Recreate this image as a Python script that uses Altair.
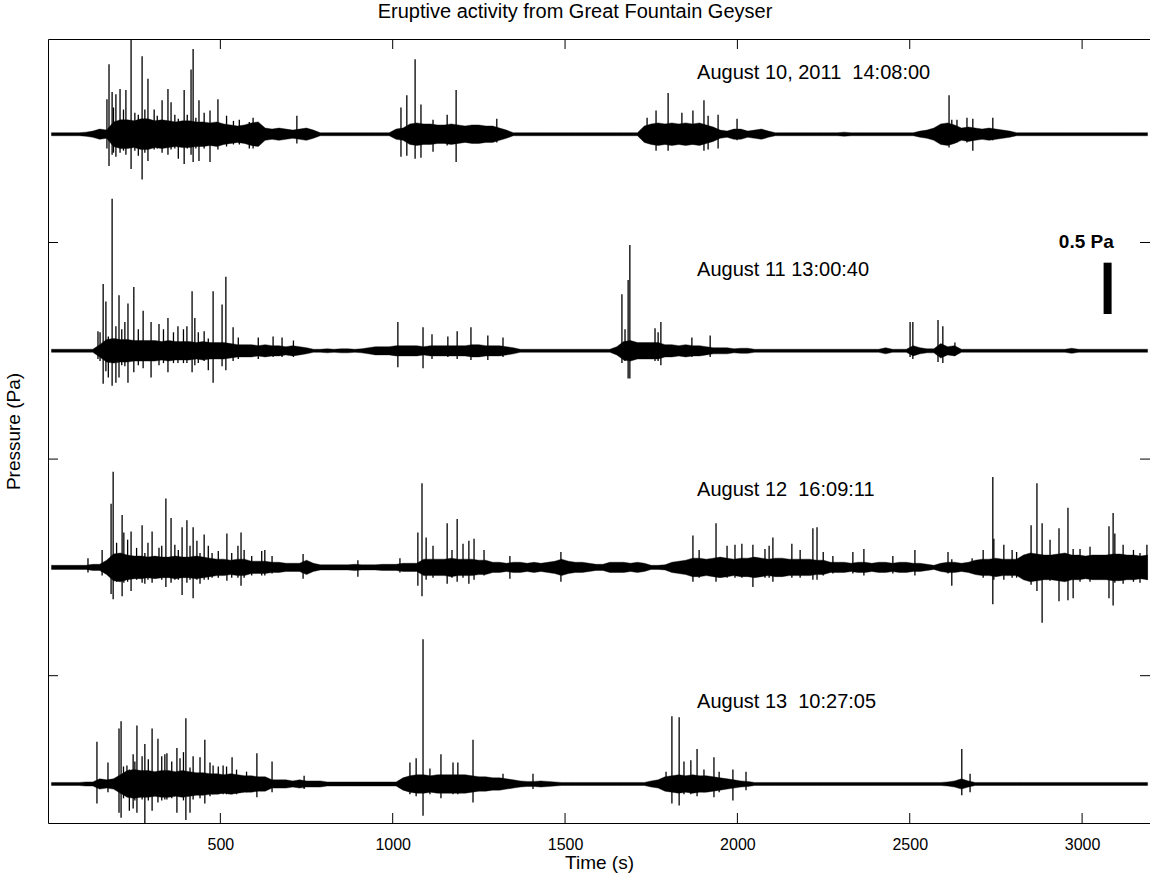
import altair as alt
import pandas as pd

# ---------------- data ----------------
BIN_S = 20          # envelope bin width, seconds
T_MAX = 3197        # right edge of the time axis, s

# half-width of the dense part of each trace, per 20 s bin, in 0.01 Pa
env_aug10 = [
    1.5, 1.5, 1.5, 1.5, 1.5, 2, 3, 5, 4, 12,
    14, 14, 13, 15, 15, 13, 14, 13, 12, 13,
    13, 12, 12, 11, 12, 10, 9, 8, 9, 11,
    12, 6, 5, 6, 5, 4, 5, 6, 4, 1.5,
    1.5, 1.5, 1.5, 1.5, 1.5, 1.5, 1.5, 1.5, 1.5, 1.5,
    5, 6, 10, 11, 10, 10, 9, 9, 10, 9,
    8, 9, 9, 8, 8, 6, 4, 1.5, 1.5, 1.5,
    1.5, 1.5, 1.5, 1.5, 1.5, 1.5, 1.5, 1.5, 1.5, 1.5,
    1.5, 1.5, 1.5, 1.5, 1.5, 1.5, 8, 10, 11, 10,
    11, 10, 11, 10, 11, 9, 7, 4, 3, 5,
    5, 3, 4, 5, 3, 1.5, 1.5, 1.5, 1.5, 1.5,
    1.5, 1.5, 1.5, 1.5, 1.5, 2, 1.5, 1.5, 1.5, 1.5,
    1.5, 1.5, 1.5, 1.5, 1.5, 1.5, 3, 4, 6, 10,
    11, 9, 6, 7, 6, 5, 6, 5, 4, 3,
    1.5, 1.5, 1.5, 1.5, 1.5, 1.5, 1.5, 1.5, 1.5, 1.5,
    1.5, 1.5, 1.5, 1.5, 1.5, 1.5, 1.5, 1.5, 1.5, 1.5,
]
env_aug11 = [
    1.5, 1.5, 1.5, 1.5, 1.5, 1.5, 1.5, 6, 11, 12,
    11, 11, 10, 10, 10, 10, 9, 10, 9, 9,
    9, 8, 9, 8, 8, 8, 7, 6, 6, 6,
    5, 6, 5, 5, 4, 5, 4, 3, 1.5, 1.5,
    2, 1.5, 2, 2, 1.5, 2, 3, 4, 4, 4,
    5, 5, 5, 5, 4, 5, 5, 5, 5, 5,
    5, 6, 6, 5, 5, 5, 4, 3, 1.5, 1.5,
    1.5, 1.5, 1.5, 1.5, 1.5, 1.5, 1.5, 1.5, 1.5, 1.5,
    1.5, 1.5, 4, 9, 10, 8, 8, 8, 8, 6,
    6, 5, 6, 5, 5, 4, 3, 3, 3, 2,
    2.5, 2.5, 1.5, 1.5, 1.5, 1.5, 1.5, 1.5, 1.5, 1.5,
    1.5, 1.5, 1.5, 1.5, 1.5, 1.5, 1.5, 1.5, 1.5, 1.5,
    1.5, 3, 1.5, 1.5, 1.5, 5, 3, 2, 2, 7,
    4, 5, 1.5, 1.5, 1.5, 1.5, 1.5, 1.5, 1.5, 1.5,
    1.5, 1.5, 1.5, 1.5, 1.5, 1.5, 1.5, 1.5, 2.5, 1.5,
    1.5, 1.5, 1.5, 1.5, 1.5, 1.5, 1.5, 1.5, 1.5, 1.5,
]
env_aug12 = [
    2, 2, 2, 2, 2, 2, 3, 3, 7, 13,
    14, 12, 11, 11, 10, 11, 10, 10, 11, 10,
    10, 11, 10, 9, 8, 8, 7, 8, 8, 6,
    6, 6, 5, 5, 4, 4, 4, 7, 4, 2.5,
    2.5, 2.5, 2.5, 2.5, 3, 2.5, 2.5, 2.5, 3, 3,
    3, 4, 4, 4, 8, 8, 8, 8, 9, 8,
    8, 8, 7, 7, 5, 5, 4, 5, 5, 4,
    5, 4, 5, 6, 8, 6, 5, 5, 4, 3,
    3, 5, 5, 5, 4, 5, 4, 2, 2, 2.5,
    5, 6, 7, 9, 9, 8, 9, 10, 9, 8,
    9, 9, 10, 9, 8, 9, 9, 8, 8, 8,
    8, 7, 7, 5, 5, 5, 4, 5, 5, 4,
    5, 5, 4, 5, 5, 4, 4, 3, 2, 4,
    5, 5, 4, 5, 7, 8, 8, 9, 8, 8,
    8, 12, 14, 13, 12, 12, 13, 14, 12, 12,
    11, 12, 12, 12, 13, 13, 12, 12, 11, 12,
]
env_aug13 = [
    1.5, 1.5, 1.5, 1.5, 1.5, 2, 2, 5, 4, 5,
    9, 13, 14, 13, 13, 12, 13, 13, 12, 13,
    12, 11, 11, 10, 10, 9, 10, 9, 8, 8,
    7, 7, 4, 4, 4, 3, 4, 3, 3, 3,
    2, 2, 2, 2, 2, 2, 2, 2, 2, 2,
    2, 6, 8, 9, 9, 8, 9, 9, 9, 9,
    9, 8, 7, 7, 6, 6, 5, 4, 3, 2.5,
    2.5, 3, 2.5, 2, 1.5, 1.5, 1.5, 1.5, 1.5, 1.5,
    1.5, 1.5, 1.5, 1.5, 1.5, 1.5, 1.5, 3, 4, 7,
    8, 9, 8, 9, 8, 8, 7, 6, 5, 4,
    3, 2.5, 1.5, 1.5, 1.5, 1.5, 1.5, 1.5, 1.5, 1.5,
    1.5, 1.5, 1.5, 1.5, 1.5, 1.5, 1.5, 1.5, 1.5, 1.5,
    1.5, 1.5, 1.5, 1.5, 1.5, 1.5, 1.5, 1.5, 1.5, 1.5,
    2, 3, 5, 3, 1.5, 1.5, 1.5, 1.5, 1.5, 1.5,
    1.5, 1.5, 1.5, 1.5, 1.5, 1.5, 1.5, 1.5, 1.5, 1.5,
    1.5, 1.5, 1.5, 1.5, 1.5, 1.5, 1.5, 1.5, 1.5, 1.5,
]

# individual spikes: (time s, peak up, peak down) in 0.01 Pa
spikes_aug10 = [
    (171, 34, 14), (177, 68, 31), (186, 41, 20), (190, 26, 18), (197, 39, 22),
    (209, 44, 18), (219, 24, 16), (226, 43, 20), (241, 94, 34), (252, 21, 16),
    (262, 19, 21), (273, 76, 44), (281, 24, 18), (290, 54, 26), (308, 24, 15),
    (317, 18, 14), (331, 33, 18), (348, 44, 20), (357, 31, 15), (368, 19, 14),
    (378, 15, 24), (395, 43, 29), (404, 19, 14), (415, 63, 20), (421, 83, 27),
    (429, 16, 14), (438, 33, 26), (453, 21, 14), (470, 23, 27), (493, 34, 15),
    (518, 18, 12), (538, 13, 10), (555, 14, 10), (584, 12, 14), (595, 16, 14),
    (722, 18, 9), (1024, 26, 22), (1041, 38, 21), (1065, 73, 24), (1082, 29, 23),
    (1117, 14, 17), (1158, 19, 11), (1184, 43, 27), (1302, 15, 8), (1738, 16, 8),
    (1764, 23, 16), (1799, 40, 16), (1839, 21, 10), (1871, 23, 10), (1903, 33, 16),
    (1915, 18, 15), (1944, 19, 14), (1999, 15, 6), (2614, 38, 13), (2622, 14, 8),
    (2637, 14, 8), (2666, 16, 8), (2683, 15, 16), (2741, 16, 6),
]
spikes_aug11 = [
    (145, 19, 8), (151, 18, 10), (160, 65, 32), (168, 48, 20), (175, 14, 26),
    (186, 148, 34), (197, 24, 31), (206, 54, 26), (214, 21, 14), (223, 28, 15),
    (232, 46, 31), (249, 62, 21), (262, 21, 14), (276, 39, 17), (299, 28, 26),
    (322, 26, 14), (335, 21, 12), (348, 32, 21), (364, 18, 12), (377, 24, 12),
    (393, 21, 12), (403, 24, 12), (418, 58, 21), (426, 32, 14), (436, 18, 12),
    (453, 19, 10), (465, 12, 19), (479, 58, 31), (505, 45, 15), (516, 72, 19),
    (537, 23, 10), (552, 13, 8), (610, 13, 8), (653, 14, 6), (679, 13, 6),
    (712, 10, 6), (1015, 28, 16), (1088, 23, 17), (1114, 16, 8), (1160, 14, 6),
    (1187, 19, 8), (1227, 23, 9), (1276, 15, 9), (1320, 13, 6), (1665, 55, 12),
    (1674, 21, 10), (1683, 69, 27), (1688, 103, 27), (1761, 22, 10), (1770, 18, 10),
    (1778, 28, 14), (1868, 13, 6), (1921, 15, 6), (2501, 28, 6), (2509, 28, 8),
    (2582, 30, 11), (2596, 24, 12), (2631, 8, 5),
]
spikes_aug12 = [
    (116, 9, 5), (157, 17, 8), (183, 62, 26), (189, 93, 31), (199, 24, 14),
    (215, 51, 28), (220, 34, 15), (231, 27, 14), (241, 35, 23), (257, 19, 12),
    (273, 41, 15), (281, 14, 16), (290, 24, 12), (302, 35, 15), (322, 19, 10),
    (330, 21, 12), (342, 67, 19), (357, 48, 15), (368, 22, 12), (378, 17, 12),
    (389, 39, 27), (403, 46, 15), (412, 21, 12), (421, 39, 30), (432, 26, 12),
    (441, 14, 16), (453, 32, 12), (465, 21, 12), (476, 14, 10), (494, 16, 10),
    (519, 33, 13), (533, 14, 10), (551, 21, 10), (560, 34, 18), (569, 17, 10),
    (591, 11, 8), (620, 16, 8), (629, 17, 8), (650, 11, 6), (740, 13, 11),
    (899, 7, 9), (1021, 9, 5), (1073, 34, 18), (1085, 82, 28), (1097, 29, 12),
    (1117, 21, 10), (1158, 43, 16), (1172, 17, 10), (1187, 47, 14), (1204, 23, 10),
    (1221, 26, 16), (1236, 28, 12), (1265, 17, 8), (1340, 11, 11), (1488, 15, 14),
    (1871, 31, 14), (1889, 17, 10), (1938, 43, 14), (1970, 21, 10), (1993, 22, 10),
    (2013, 23, 10), (2045, 22, 19), (2080, 18, 10), (2092, 21, 10), (2103, 29, 14),
    (2158, 23, 10), (2182, 17, 10), (2219, 38, 12), (2231, 39, 12), (2249, 15, 8),
    (2277, 11, 6), (2335, 15, 6), (2367, 18, 8), (2451, 11, 6), (2515, 17, 8),
    (2611, 15, 6), (2622, 8, 18), (2681, 9, 5), (2713, 17, 10), (2741, 88, 36),
    (2744, 28, 12), (2773, 22, 12), (2797, 17, 10), (2810, 15, 10), (2852, 41, 17),
    (2869, 82, 23), (2884, 43, 54), (2907, 27, 13), (2933, 38, 33), (2959, 58, 32),
    (2974, 18, 30), (2994, 18, 14), (3023, 20, 14), (3078, 40, 30), (3090, 53, 37),
    (3095, 33, 15), (3119, 22, 16), (3149, 17, 14), (3168, 14, 15), (3188, 22, 12),
]
spikes_aug13 = [
    (142, 41, 19), (174, 21, 8), (206, 54, 28), (212, 61, 33), (219, 17, 14),
    (229, 18, 12), (236, 14, 26), (247, 29, 24), (252, 22, 16), (258, 57, 28),
    (273, 27, 15), (281, 39, 39), (291, 24, 16), (302, 54, 26), (319, 44, 18),
    (330, 27, 16), (339, 29, 15), (345, 30, 15), (359, 22, 14), (374, 35, 28),
    (383, 25, 12), (393, 31, 16), (400, 64, 35), (412, 16, 28), (421, 27, 15),
    (441, 26, 14), (455, 43, 19), (470, 21, 12), (479, 18, 10), (494, 17, 10),
    (508, 18, 10), (518, 17, 10), (534, 26, 10), (547, 14, 10), (576, 12, 8),
    (606, 30, 13), (650, 22, 8), (743, 8, 5), (1050, 21, 10), (1068, 25, 12),
    (1088, 141, 31), (1108, 15, 10), (1140, 29, 14), (1175, 21, 10), (1189, 21, 10),
    (1233, 43, 18), (1320, 10, 5), (1407, 10, 5), (1793, 12, 6), (1810, 66, 19),
    (1831, 65, 21), (1845, 22, 10), (1865, 23, 10), (1883, 34, 12), (1903, 14, 8),
    (1932, 26, 13), (1947, 12, 8), (1987, 14, 16), (2025, 12, 6), (2651, 34, 11),
    (2675, 10, 8),
]

trace_labels = ["August 10, 2011\u00a0\u00a014:08:00", "August 11 13:00:40",
                "August 12\u00a0\u00a016:09:11", "August 13\u00a0\u00a010:27:05"]
x_tick_values = [500, 1000, 1500, 2000, 2500, 3000]
scale_bar_pa = 0.5

# ---------------- layout constants ----------------
TRACE_STEP = 2.109                      # vertical spacing of traces, Pa
offsets = [3 * TRACE_STEP, 2 * TRACE_STEP, TRACE_STEP, 0.0]
label_dy = [0.596, 0.787, 0.757, 0.801]  # label height above its trace
Y_DOM = [-0.38, 7.254]
W, H = 1102, 784
FONT = "Liberation Sans"

envs = [env_aug10, env_aug11, env_aug12, env_aug13]
spikes = [spikes_aug10, spikes_aug11, spikes_aug12, spikes_aug13]
for e in envs:
    assert len(e) == 160, len(e)

xs = alt.Scale(domain=[0, T_MAX], nice=False, zero=False)
ys = alt.Scale(domain=Y_DOM, nice=False, zero=False)
y_tick_values = [(offsets[i] + offsets[i + 1]) / 2 for i in range(3)]

bottom_axis = alt.Axis(values=x_tick_values, format="d", ticks=False, tickSize=0,
                       labelFont=FONT, labelFontSize=16, labelColor="black",
                       labelPadding=13, domain=True, domainColor="black", grid=False,
                       title="Time (s)", titleFont=FONT, titleFontSize=19,
                       titleFontWeight="normal", titleColor="black",
                       titleY=39, titleBaseline="middle")
left_axis = alt.Axis(values=y_tick_values, labels=False, ticks=False, tickSize=0,
                     domain=True, domainColor="black", grid=False,
                     title="Pressure (Pa)", titleFont=FONT, titleFontSize=19,
                     titleFontWeight="normal", titleColor="black",
                     titleX=-35, titleY=392, titleAngle=270, titleAlign="center",
                     titleBaseline="middle")
top_axis = alt.Axis(orient="top", labels=False, ticks=False, tickSize=0,
                    domain=True, domainColor="black", grid=False, title=None)

layers = []
spike_rows = []
for k, (env, sp, off) in enumerate(zip(envs, spikes, offsets)):
    df = pd.DataFrame({
        "t": [BIN_S * i + BIN_S / 2 for i in range(len(env))],
        "lo": [off - a / 100 for a in env],
        "hi": [off + a / 100 for a in env],
    })
    layers.append(
        alt.Chart(df).mark_area(color="black", stroke="black", strokeWidth=0.4,
                                orient="vertical", interpolate="linear",
                                clip=True).encode(
            x=alt.X("t:Q", scale=xs, axis=bottom_axis if k == 0 else None),
            y=alt.Y("lo:Q", scale=ys, axis=left_axis if k == 0 else None),
            y2="hi:Q",
        )
    )
    for t, up, dn in sp:
        spike_rows.append({"t": t, "y1": off - dn / 100, "y2": off + up / 100})
spike_df = pd.DataFrame(spike_rows)

label_df = pd.DataFrame({"t": [1883] * 4,
                         "y": [o + d for o, d in zip(offsets, label_dy)],
                         "text": trace_labels})
xt_df = pd.DataFrame({"t": x_tick_values})
yt_df = pd.DataFrame({"v": y_tick_values})
bar_df = pd.DataFrame({"t": [3074], "y1": [4.576], "y2": [4.576 + scale_bar_pa],
                       "ty": [5.273], "tx": [3092], "text": [f"{scale_bar_pa} Pa"]})

spk = alt.Chart(spike_df).mark_rule(color="black", strokeWidth=1.3, clip=True).encode(
    x=alt.X("t:Q", scale=xs, axis=None),
    y=alt.Y("y1:Q", scale=ys, axis=None),
    y2="y2:Q",
)
top_ticks = alt.Chart(xt_df).mark_rule(color="black", strokeWidth=1).encode(
    x=alt.X("t:Q", scale=xs, axis=top_axis), y=alt.value(0), y2=alt.value(10))
bot_ticks = alt.Chart(xt_df).mark_rule(color="black", strokeWidth=1).encode(
    x=alt.X("t:Q", scale=xs, axis=None), y=alt.value(H), y2=alt.value(H - 10))
left_ticks = alt.Chart(yt_df).mark_rule(color="black", strokeWidth=1).encode(
    y=alt.Y("v:Q", scale=ys, axis=None), x=alt.value(0), x2=alt.value(10))
right_ticks = alt.Chart(yt_df).mark_rule(color="black", strokeWidth=1).encode(
    y=alt.Y("v:Q", scale=ys, axis=None), x=alt.value(W), x2=alt.value(W - 10))
labels = alt.Chart(label_df).mark_text(align="left", baseline="middle", font=FONT,
                                       fontSize=20, color="black").encode(
    x=alt.X("t:Q", scale=xs, axis=None), y=alt.Y("y:Q", scale=ys, axis=None),
    text="text:N")
bar = alt.Chart(bar_df).mark_rule(color="black", strokeWidth=8).encode(
    x=alt.X("t:Q", scale=xs, axis=None), y=alt.Y("y1:Q", scale=ys, axis=None),
    y2="y2:Q")
bar_text = alt.Chart(bar_df).mark_text(align="right", baseline="middle", font=FONT,
                                       fontSize=19, fontWeight="bold",
                                       color="black").encode(
    x=alt.X("tx:Q", scale=xs, axis=None), y=alt.Y("ty:Q", scale=ys, axis=None),
    text="text:N")

chart = alt.layer(*layers, spk, top_ticks, bot_ticks, left_ticks, right_ticks,
                  labels, bar, bar_text).resolve_axis(
    x="independent", y="independent").properties(
    width=W, height=H,
    padding={"left": 48, "top": 39, "right": 0, "bottom": 53},
    autosize=alt.AutoSizeParams(type="none"),
    title=alt.TitleParams(text="Eruptive activity from Great Fountain Geyser",
                          font=FONT, fontSize=20, fontWeight="normal", color="black",
                          anchor="middle", dx=-24, offset=17),
    background="white",
).configure_view(strokeWidth=0)

chart.save("out.html", embed_options={"renderer": "svg", "actions": False})
